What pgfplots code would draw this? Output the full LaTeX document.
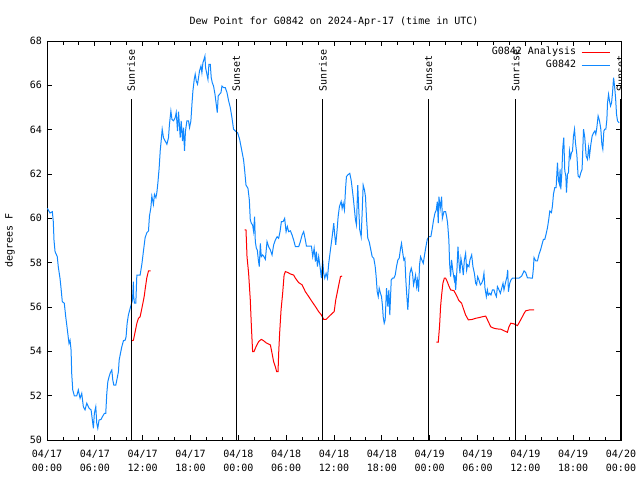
\documentclass[border=0pt]{standalone}
\usepackage{fontspec}
\setmainfont{DejaVu Sans Mono}
\usepackage{pgfplots}
\pgfplotsset{compat=1.18}
\definecolor{stnblue}{RGB}{16,136,255}
\begin{document}
\fontsize{10}{12}\selectfont
\begin{tikzpicture}
\useasboundingbox (-47pt,-40pt) rectangle (593pt,440pt);
\begin{axis}[
  scale only axis, width=574pt, height=399pt,
  xmin=0, xmax=72, ymin=50, ymax=68,
  xtick={0,6,...,72},
  xticklabels={{04/17\\00:00},{04/17\\06:00},{04/17\\12:00},{04/17\\18:00},{04/18\\00:00},{04/18\\06:00},{04/18\\12:00},{04/18\\18:00},{04/19\\00:00},{04/19\\06:00},{04/19\\12:00},{04/19\\18:00},{04/20\\00:00}},
  xticklabel style={align=center, font=\fontsize{10}{13.6}\selectfont, inner sep=0pt, yshift=-10pt},
  minor x tick num=2,
  ytick={50,52,...,68},
  yticklabel style={inner sep=0pt, xshift=-5pt},
  /pgf/number format/assume math mode=true,
  tick align=inside,
  major tick length=5pt, minor tick length=3.5pt,
  tick style={black, line width=0.8pt},
  axis line style={line width=0.8pt},
  title={Dew Point for G0842 on 2024-Apr-17 (time in UTC)},
  title style={at={(axis description cs:0.5,1)}, anchor=base, yshift=10pt, inner sep=0pt},
  ylabel={degrees F},
  ylabel style={at={(axis description cs:-0.0645,0.5)}, anchor=center, inner sep=0pt},
  legend plot pos=right,
  legend cell align=right,
  legend image code/.code={\draw[#1] (0pt,0pt) -- (28pt,0pt);},
  legend style={draw=none, fill=none, inner sep=0pt, at={(rel axis cs:1,1)}, anchor=north east, xshift=-10.7pt, yshift=-5pt, row sep=1pt, column sep=4pt, nodes={inner sep=1pt, text height=7.5pt, text depth=2.5pt}},
  unbounded coords=jump,
]
\addplot[red, line width=1pt] coordinates {
(10.64,54.48) (10.84,54.50) (11.06,54.89) (11.27,55.26) (11.47,55.49) (11.68,55.56) (11.90,55.94) (12.10,56.30) (12.22,56.54) (12.31,56.80) (12.52,57.32) (12.73,57.63) (13.00,57.63)
(13.5,nan)
(24.79,59.48) (24.96,59.48) (25.09,58.27) (25.29,57.52) (25.50,56.32) (25.63,55.19) (25.79,53.99) (25.97,53.99) (26.22,54.21) (26.55,54.44) (26.88,54.54) (27.17,54.48) (27.47,54.39) (27.80,54.33) (28.02,54.29) (28.23,53.91) (28.43,53.53) (28.64,53.31) (28.81,53.08) (28.98,53.08) (29.06,53.91) (29.18,54.81) (29.36,55.87) (29.56,56.62) (29.74,57.44) (29.90,57.60) (30.24,57.55) (30.53,57.49) (30.94,57.44) (31.16,57.30) (31.57,57.10) (32.00,57.00) (32.41,56.69) (32.83,56.47) (33.25,56.24) (33.67,56.02) (34.08,55.79) (34.42,55.64) (34.71,55.44) (35.01,55.44) (35.34,55.56) (35.77,55.71) (36.02,55.79) (36.22,56.32) (36.39,56.62) (36.60,57.00) (36.81,57.37) (37.02,57.40)
(40,nan)
(48.83,54.41) (49.08,54.41) (49.25,55.19) (49.37,56.02) (49.50,56.54) (49.66,57.07) (49.84,57.30) (50.00,57.30) (50.21,57.14) (50.41,56.95) (50.63,56.77) (51.04,56.74) (51.34,56.54) (51.67,56.29) (52.01,56.17) (52.22,55.94) (52.51,55.64) (52.85,55.42) (53.35,55.44) (53.77,55.49) (54.18,55.52) (54.61,55.56) (55.03,55.59) (55.36,55.34) (55.65,55.11) (56.07,55.04) (56.49,55.01) (56.91,55.00) (57.32,54.93) (57.75,54.86) (57.95,55.11) (58.17,55.27) (58.58,55.24) (59.01,55.16) (59.42,55.42) (59.84,55.71) (60.05,55.83) (60.55,55.87) (61.09,55.87)
};
\addlegendentry{G0842 Analysis}
\addplot[stnblue, line width=1pt] coordinates {
(0.05,60.45) (0.38,60.24) (0.67,60.30) (0.79,59.85) (0.88,59.00) (1.01,58.50) (1.29,58.27) (1.42,57.80) (1.63,57.30) (1.76,56.85) (1.92,56.24) (2.17,56.17) (2.35,55.56) (2.51,55.10) (2.68,54.59) (2.76,54.36) (2.89,54.50) (3.02,54.06) (3.10,53.00) (3.23,52.26) (3.43,51.99) (3.73,51.99) (3.93,52.26) (4.15,51.88) (4.36,52.10) (4.56,51.50) (4.77,51.36) (4.99,51.66) (5.28,51.43) (5.53,51.36) (5.69,50.90) (5.82,50.53) (5.94,51.20) (6.12,51.50) (6.24,50.76) (6.37,50.53) (6.53,50.90) (6.78,50.93) (6.95,51.05) (7.20,51.20) (7.37,51.20) (7.50,52.10) (7.63,52.63) (7.79,52.86) (7.95,53.04) (8.13,53.16) (8.25,52.71) (8.38,52.48) (8.63,52.48) (8.76,52.71) (8.96,53.08) (9.05,53.60) (9.21,53.90) (9.38,54.20) (9.59,54.48) (9.80,54.50) (9.92,54.66) (10.05,55.26) (10.21,55.64) (10.43,55.94) (10.55,56.09) (10.72,56.30) (10.84,57.14) (10.88,56.47) (10.97,56.17) (11.14,56.17) (11.27,57.44) (11.68,57.44) (11.90,57.93) (12.10,58.53) (12.31,59.13) (12.52,59.35) (12.73,59.43) (12.85,60.10) (13.03,60.48) (13.15,61.00) (13.35,60.63) (13.48,61.08) (13.66,60.93) (13.78,61.16) (13.91,61.60) (14.07,62.28) (14.20,63.04) (14.32,63.49) (14.45,64.02) (14.61,63.64) (14.82,63.49) (15.04,63.34) (15.24,63.64) (15.36,64.24) (15.54,64.84) (15.67,64.47) (15.87,64.40) (16.08,64.54) (16.21,64.77) (16.37,63.94) (16.50,64.81) (16.71,63.64) (16.83,64.40) (17.00,63.49) (17.12,64.09) (17.25,63.04) (17.37,63.94) (17.55,64.40) (17.75,64.40) (17.88,64.09) (18.05,64.40) (18.18,65.14) (18.30,65.74) (18.47,66.27) (18.59,66.50) (18.72,66.20) (18.88,66.05) (19.01,66.35) (19.13,66.65) (19.31,66.87) (19.43,66.57) (19.56,67.02) (19.69,67.17) (19.81,67.32) (19.89,66.80) (20.06,66.50) (20.19,66.27) (20.31,66.95) (20.48,66.95) (20.60,66.35) (20.73,66.12) (20.89,65.97) (21.07,65.60) (21.23,65.14) (21.36,64.77) (21.48,65.52) (21.65,65.60) (21.82,65.67) (21.95,65.97) (22.15,65.90) (22.36,65.90) (22.58,65.67) (22.78,65.30) (22.99,65.00) (23.20,64.54) (23.40,64.02) (23.62,63.94) (23.91,63.86) (24.16,63.57) (24.66,62.63) (24.79,62.18) (24.96,61.50) (25.21,61.35) (25.38,60.83) (25.50,59.93) (25.63,59.78) (25.79,59.70) (25.92,59.40) (26.04,60.08) (26.13,58.95) (26.26,58.65) (26.38,58.57) (26.51,58.12) (26.63,57.82) (26.76,58.87) (26.88,58.27) (27.05,58.35) (27.22,58.27) (27.39,58.15) (27.60,58.95) (27.80,58.72) (28.02,58.57) (28.23,58.35) (28.43,58.80) (28.64,59.02) (28.86,59.17) (29.06,59.10) (29.23,59.40) (29.40,59.85) (29.61,59.85) (29.81,60.00) (29.99,59.40) (30.15,59.63) (30.31,59.40) (30.53,59.44) (30.74,59.25) (30.94,59.02) (31.16,58.72) (31.57,58.72) (31.78,58.95) (32.00,59.25) (32.20,59.40) (32.41,59.02) (32.54,58.75) (33.17,58.75) (33.33,58.27) (33.51,58.65) (33.67,58.05) (33.79,58.50) (33.92,57.82) (34.08,58.27) (34.30,57.67) (34.42,57.30) (34.58,58.12) (34.71,57.52) (34.84,57.30) (35.01,57.52) (35.18,57.30) (35.34,57.97) (35.55,58.57) (35.77,59.17) (35.97,59.78) (36.09,59.25) (36.22,58.80) (36.39,59.48) (36.52,60.08) (36.68,60.53) (36.90,60.76) (37.02,60.45) (37.15,60.68) (37.31,60.38) (37.44,61.28) (37.56,61.88) (37.73,61.96) (37.98,62.03) (38.15,61.73) (38.28,61.35) (38.40,60.98) (38.57,60.38) (38.69,59.93) (38.82,59.70) (38.98,61.50) (39.11,60.38) (39.23,59.48) (39.41,59.17) (39.53,60.23) (39.66,61.50) (39.82,61.28) (39.95,60.98) (40.08,60.00) (40.24,59.10) (40.41,58.95) (40.58,58.65) (40.79,58.27) (40.99,58.20) (41.17,57.82) (41.29,57.37) (41.42,56.69) (41.55,56.47) (41.67,56.85) (41.83,56.62) (41.96,56.47) (42.09,56.02) (42.17,55.56) (42.30,55.27) (42.42,55.42) (42.59,56.85) (42.75,56.02) (42.88,56.77) (43.00,55.64) (43.18,57.22) (43.34,57.30) (43.51,57.30) (43.68,57.44) (43.84,57.82) (44.01,58.12) (44.18,58.20) (44.35,58.65) (44.47,58.87) (44.60,58.50) (44.76,58.12) (44.89,58.20) (45.01,57.22) (45.14,56.47) (45.26,55.87) (45.39,56.69) (45.52,57.52) (45.69,57.75) (45.85,57.52) (45.98,57.00) (46.11,57.22) (46.23,57.44) (46.36,56.92) (46.48,57.22) (46.61,56.69) (46.73,57.90) (46.86,58.27) (47.02,58.12) (47.20,57.97) (47.36,58.35) (47.53,58.72) (47.70,59.05) (47.90,59.17) (48.15,59.17) (48.33,59.55) (48.49,59.93) (48.66,60.23) (48.83,60.38) (48.96,60.75) (49.08,59.78) (49.16,60.98) (49.33,60.45) (49.50,60.98) (49.59,60.00) (49.79,60.30) (50.00,60.30) (50.13,60.08) (50.25,59.78) (50.41,59.02) (50.50,57.97) (50.63,57.37) (50.75,58.12) (50.92,57.60) (51.09,57.22) (51.17,57.44) (51.26,56.77) (51.42,57.67) (51.55,58.72) (51.67,58.05) (51.80,57.52) (51.92,58.20) (52.10,57.82) (52.22,57.44) (52.35,58.12) (52.51,58.42) (52.64,57.67) (52.76,57.90) (52.93,57.82) (53.05,58.12) (53.27,58.35) (53.43,57.82) (53.61,57.52) (53.77,57.07) (53.89,57.00) (54.02,57.37) (54.18,57.22) (54.36,57.00) (54.52,57.07) (54.68,57.22) (54.81,57.52) (54.94,56.85) (55.11,56.47) (55.24,56.77) (55.36,56.54) (55.53,56.62) (55.69,56.54) (55.87,56.77) (56.07,56.77) (56.19,56.62) (56.37,56.47) (56.50,56.92) (56.70,56.77) (56.87,56.62) (57.04,56.85) (57.20,57.07) (57.32,56.77) (57.54,57.14) (57.70,57.37) (57.79,57.67) (57.88,56.69) (58.04,57.07) (58.20,57.22) (58.38,57.30) (59.21,57.30) (59.55,57.40) (59.84,57.63) (60.05,57.55) (60.26,57.32) (60.89,57.30) (61.02,57.78) (61.09,58.23) (61.31,58.08) (61.52,58.08) (61.72,58.38) (61.93,58.60) (62.15,58.90) (62.27,59.05) (62.44,59.05) (62.60,59.28) (62.78,59.58) (62.94,59.96) (63.07,60.33) (63.28,60.26) (63.40,60.56) (63.53,61.09) (63.69,61.38) (63.86,61.38) (63.94,61.91) (64.03,62.51) (64.16,61.69) (64.28,61.54) (64.36,62.21) (64.45,61.31) (64.57,61.99) (64.70,63.19) (64.82,63.64) (64.95,62.14) (65.08,61.91) (65.16,61.16) (65.29,61.99) (65.41,62.06) (65.54,63.04) (65.67,62.74) (65.79,62.96) (65.92,63.04) (66.04,63.71) (66.17,64.02) (66.29,63.41) (66.46,62.89) (66.62,61.91) (66.80,61.84) (66.96,62.06) (67.12,62.21) (67.30,64.02) (67.46,63.64) (67.63,62.81) (67.80,62.66) (67.93,63.19) (68.05,62.81) (68.22,63.34) (68.38,63.71) (68.56,63.86) (68.72,63.94) (68.84,63.79) (68.97,64.09) (69.13,64.62) (69.31,64.39) (69.47,64.02) (69.60,63.34) (69.72,63.12) (69.85,63.94) (69.97,64.02) (70.10,64.02) (70.23,64.47) (70.31,65.22) (70.44,65.59) (70.56,65.29) (70.69,65.07) (70.82,65.22) (70.94,65.67) (71.07,66.35) (71.19,65.97) (71.32,65.44) (71.44,64.69) (71.57,64.39) (71.77,64.31)
};
\addlegendentry{G0842}
\addplot[black, line width=1pt, forget plot] coordinates {(10.55,50) (10.55,65.38)};
\addplot[black, line width=1pt, forget plot] coordinates {(23.75,50) (23.75,65.38)};
\addplot[black, line width=1pt, forget plot] coordinates {(34.6,50) (34.6,65.38)};
\addplot[black, line width=1pt, forget plot] coordinates {(47.85,50) (47.85,65.38)};
\addplot[black, line width=1pt, forget plot] coordinates {(58.8,50) (58.8,65.38)};
\addplot[black, line width=1pt, forget plot] coordinates {(71.95,50) (71.95,65.38)};
\node[rotate=90, anchor=west, inner sep=0pt] at (axis cs:10.55,65.7) {Sunrise};
\node[rotate=90, anchor=west, inner sep=0pt] at (axis cs:23.75,65.7) {Sunset};
\node[rotate=90, anchor=west, inner sep=0pt] at (axis cs:34.6,65.7) {Sunrise};
\node[rotate=90, anchor=west, inner sep=0pt] at (axis cs:47.85,65.7) {Sunset};
\node[rotate=90, anchor=west, inner sep=0pt] at (axis cs:58.8,65.7) {Sunrise};
\node[rotate=90, anchor=west, inner sep=0pt] at (axis cs:71.95,65.7) {Sunset};
\end{axis}
\end{tikzpicture}
\end{document}
